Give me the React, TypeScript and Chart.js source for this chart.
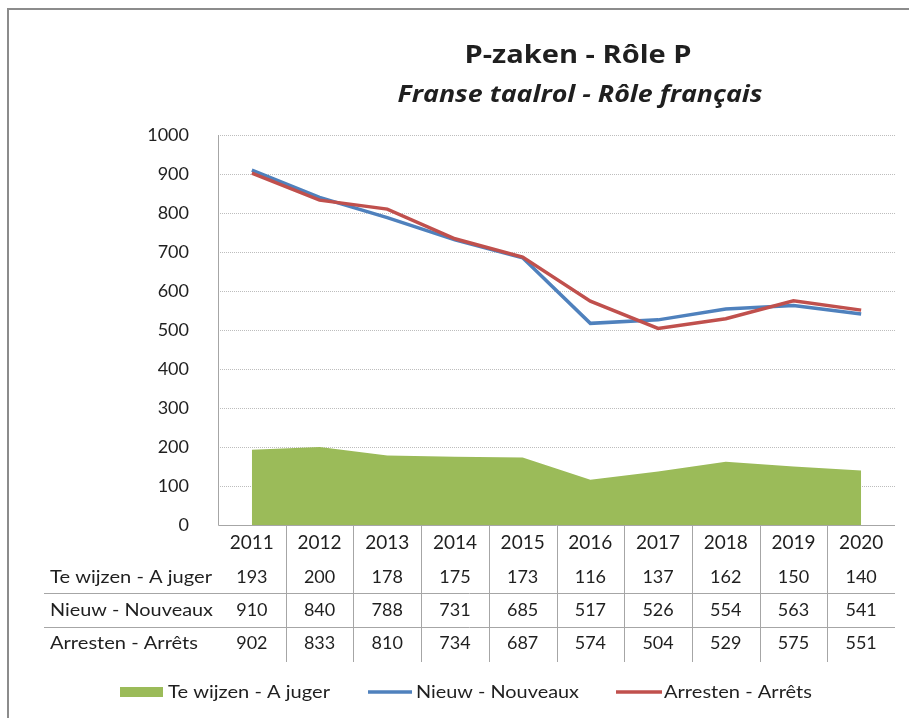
import React, { useEffect, useRef } from "react";
import { Chart, registerables } from "chart.js";

Chart.register(...registerables);

const years = ["2011", "2012", "2013", "2014", "2015", "2016", "2017", "2018", "2019", "2020"];
const teWijzen = [193, 200, 178, 175, 173, 116, 137, 162, 150, 140];
const nieuw = [910, 840, 788, 731, 685, 517, 526, 554, 563, 541];
const arresten = [902, 833, 810, 734, 687, 574, 504, 529, 575, 551];
const seriesLabels = ["Te wijzen - A juger", "Nieuw - Nouveaux", "Arresten - Arrêts"];
const titleText = "P-zaken - Rôle P";
const subtitleText = "Franse taalrol - Rôle français";
const yMin = 0;
const yMax = 1000;
const yStep = 100;

const GREEN = "#9BBB59";
const BLUE = "#4F81BD";
const RED = "#C0504D";
const TEXT = "#1f1f1f";
const FONT = "Lato, 'Open Sans', sans-serif";
const TFONT = "'Open Sans', Lato, sans-serif";

const W = 909;
const H = 718;

// target rendered widths of the labels (layout only)
const labelWidths = [162, 163, 148];

function fitText(ctx: CanvasRenderingContext2D, text: string, x: number, y: number, width: number, align: CanvasTextAlign) {
  const m = ctx.measureText(text).width;
  const sx = width / m;
  ctx.save();
  ctx.translate(x, y);
  ctx.scale(sx, 1);
  ctx.textAlign = align;
  ctx.fillText(text, 0, 0);
  ctx.restore();
}

const decorPlugin = {
  id: "decor",
  beforeDatasetsDraw(chart: any) {
    const ctx = chart.ctx;
    const area = chart.chartArea;
    const y = chart.scales.y;
    ctx.save();
    ctx.strokeStyle = "#bdbdbd";
    ctx.lineWidth = 1;
    ctx.setLineDash([1, 1]);
    for (let v = yMin + yStep; v <= yMax; v += yStep) {
      const py = Math.round(y.getPixelForValue(v)) + 0.5;
      ctx.beginPath();
      ctx.moveTo(area.left, py);
      ctx.lineTo(area.right, py);
      ctx.stroke();
    }
    ctx.restore();
  },
  afterDatasetsDraw(chart: any) {
    const ctx = chart.ctx;
    const area = chart.chartArea;
    const x = chart.scales.x;
    ctx.save();
    // axis lines
    ctx.strokeStyle = "#a6a6a6";
    ctx.lineWidth = 1;
    ctx.beginPath();
    ctx.moveTo(Math.round(area.left) + 0.5, area.top);
    ctx.lineTo(Math.round(area.left) + 0.5, Math.round(area.bottom) + 0.5);
    ctx.lineTo(area.right, Math.round(area.bottom) + 0.5);
    ctx.stroke();

    // data table
    const tableBottom = 662;
    const rowY = [543, 577, 610, 643];
    const hLines = [593, 627];
    ctx.strokeStyle = "#a6a6a6";
    ctx.beginPath();
    for (let i = 0; i < years.length - 1; i++) {
      const bx = Math.round((x.getPixelForValue(i) + x.getPixelForValue(i + 1)) / 2) + 0.5;
      ctx.moveTo(bx, area.bottom);
      ctx.lineTo(bx, tableBottom);
    }
    for (const hy of hLines) {
      ctx.moveTo(44, hy + 0.5);
      ctx.lineTo(area.right, hy + 0.5);
    }
    ctx.stroke();

    ctx.fillStyle = TEXT;
    ctx.textBaseline = "middle";
    ctx.textAlign = "center";
    const rows = [teWijzen, nieuw, arresten];
    years.forEach((yr, i) => {
      const cx = x.getPixelForValue(i);
      ctx.font = `19px ${FONT}`;
      ctx.fillText(yr, cx, rowY[0]);
      ctx.font = `18px ${FONT}`;
      rows.forEach((r, j) => ctx.fillText(String(r[i]), cx, rowY[j + 1]));
    });
    ctx.font = `18px ${FONT}`;
    seriesLabels.forEach((l, j) => fitText(ctx, l, 50, rowY[j + 1], labelWidths[j], "left"));

    // legend
    const ly = 692;
    ctx.fillStyle = GREEN;
    ctx.fillRect(120, ly - 5, 43, 10);
    ctx.lineWidth = 3.5;
    ctx.strokeStyle = BLUE;
    ctx.beginPath();
    ctx.moveTo(368, ly);
    ctx.lineTo(412, ly);
    ctx.stroke();
    ctx.strokeStyle = RED;
    ctx.beginPath();
    ctx.moveTo(616, ly);
    ctx.lineTo(662, ly);
    ctx.stroke();
    ctx.fillStyle = TEXT;
    fitText(ctx, seriesLabels[0], 168, ly, labelWidths[0], "left");
    fitText(ctx, seriesLabels[1], 416, ly, labelWidths[1], "left");
    fitText(ctx, seriesLabels[2], 664, ly, labelWidths[2], "left");

    // titles
    ctx.textBaseline = "alphabetic";
    ctx.font = `bold 25px ${TFONT}`;
    fitText(ctx, titleText, 578, 63, 227, "center");
    ctx.font = `italic bold 24px ${TFONT}`;
    fitText(ctx, subtitleText, 580, 102, 365, "center");

    // outer border
    ctx.strokeStyle = "#8c8c8c";
    ctx.lineWidth = 2;
    ctx.beginPath();
    ctx.moveTo(8, H);
    ctx.lineTo(8, 9);
    ctx.lineTo(W, 9);
    ctx.stroke();
    ctx.restore();
  },
};

export default function App() {
  const ref = useRef<HTMLCanvasElement | null>(null);
  useEffect(() => {
    if (!ref.current) return;
    const chart = new Chart(ref.current, {
      type: "line",
      data: {
        labels: years,
        datasets: [
          {
            label: seriesLabels[0],
            data: teWijzen,
            backgroundColor: GREEN,
            borderColor: GREEN,
            borderWidth: 0,
            fill: "origin",
            pointRadius: 0,
            order: 3,
          },
          {
            label: seriesLabels[1],
            data: nieuw,
            borderColor: BLUE,
            borderWidth: 3.5,
            fill: false,
            pointRadius: 0,
            order: 2,
          },
          {
            label: seriesLabels[2],
            data: arresten,
            borderColor: RED,
            borderWidth: 3.5,
            fill: false,
            pointRadius: 0,
            order: 1,
          },
        ],
      },
      options: {
        responsive: false,
        animation: false,
        devicePixelRatio: 1,
        layout: { padding: { left: 0, right: W - 895, top: 135, bottom: H - 525 } },
        plugins: {
          legend: { display: false },
          title: { display: false },
          tooltip: { enabled: false },
        },
        scales: {
          x: { type: "category", offset: true, display: false },
          y: {
            min: yMin,
            max: yMax,
            ticks: {
              stepSize: yStep,
              padding: 21,
              color: TEXT,
              font: { family: FONT, size: 18 },
              callback: (v: any) => String(v),
            },
            grid: { display: false },
            border: { display: false },
            afterFit: (s: any) => {
              s.width = 218;
            },
          },
        },
      },
      plugins: [decorPlugin],
    });
    return () => chart.destroy();
  }, []);
  return (
    <div style={{ position: "absolute", left: 0, top: 0, width: W, height: H, background: "#fff" }}>
      <canvas ref={ref} width={W} height={H} style={{ display: "block", width: W, height: H }} />
    </div>
  );
}
